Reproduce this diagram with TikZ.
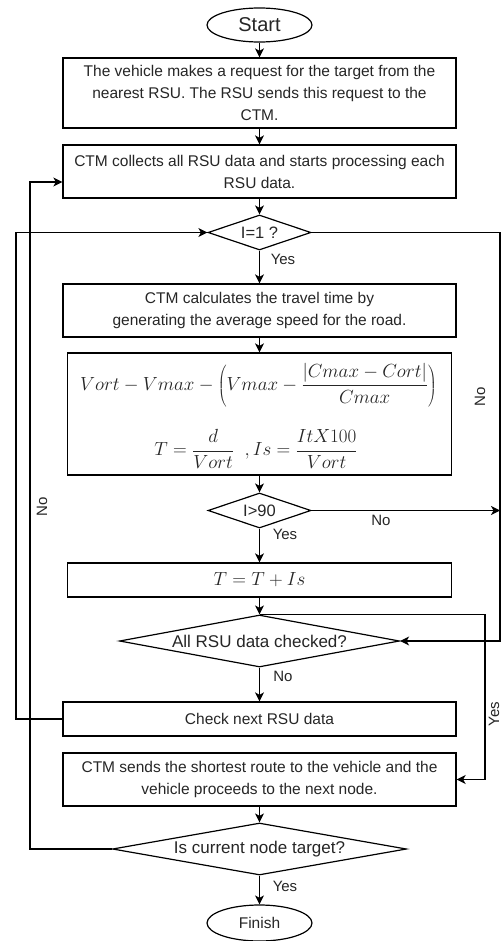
\RequirePackage{fix-cm}
\documentclass[tikz,border=0pt]{standalone}
\usepackage[no-math]{fontspec}
\setmainfont{Liberation Sans}
\usetikzlibrary{shapes.geometric,arrows.meta,calc}
\begin{document}
\begin{tikzpicture}[x=1pt,y=-1pt,
  every node/.style={font=\fontsize{15.5}{22}\selectfont, text=black!85},
  procbox/.style={draw=black, line width=1.3pt, rectangle, inner sep=0pt, align=center, minimum width=393pt},
  dec/.style={draw=black, diamond, inner sep=0pt, line width=1.2pt},
  term/.style={draw=black, ellipse, inner sep=0pt, line width=1.2pt, minimum width=105pt, minimum height=34pt},
  arr/.style={-{Stealth[length=9pt,width=9pt,inset=2.5pt]}, line width=1.2pt},
  lbl/.style={font=\fontsize{15}{18}\selectfont, inner sep=0pt},
  mth/.style={font=\fontsize{19}{22}\selectfont, inner sep=0pt},
]
\useasboundingbox (0,0) rectangle (503,941);
\fill[white] (0,0) rectangle (503,941);

% nodes
\node[term, font=\fontsize{20}{24}\selectfont] (start) at (259.5,25) {Start};
\node[procbox, minimum height=70pt] (box1) at (259.5,93)
  {The vehicle makes a request for the target from the\\nearest RSU. The RSU sends this request to the\\CTM.};
\node[procbox, minimum height=53pt] (box2) at (259.5,171.5)
  {CTM collects all RSU data and starts processing each\\RSU data.};
\node[dec, shape aspect=2.9, minimum width=103pt, minimum height=35pt, font=\fontsize{16.5}{18}\selectfont] (d1) at (259.5,232.5) {I=1 ?};
\node[procbox, minimum height=53pt] (box3) at (259.5,310.5)
  {CTM calculates the travel time by\\generating the average speed for the road.};
\node[procbox, minimum width=384pt, minimum height=122pt] (fbox) at (259.5,414) {};
\node[mth] (f1) at (258.5,385)
  {$\displaystyle Vort - Vmax - \left(Vmax - \frac{|Cmax - Cort|}{Cmax}\right)$};
\node[mth] (f2) at (256,449)
  {$\displaystyle T = \frac{d}{Vort}\ \ , Is = \frac{ItX100}{Vort}$};
\node[dec, shape aspect=2.9, minimum width=103pt, minimum height=35pt, font=\fontsize{16.5}{18}\selectfont] (d2) at (259.5,510.5) {I>90};
\node[procbox, minimum width=384pt, minimum height=34pt, font=\fontsize{19}{22}\selectfont] (boxT) at (259.5,580) {$T = T + Is$};
\node[dec, shape aspect=5.4, minimum width=280pt, minimum height=52pt, font=\fontsize{17}{20}\selectfont] (d3) at (259.5,641) {All RSU data checked?};
\node[procbox, minimum height=34pt] (check) at (259.5,719) {Check next RSU data};
\node[procbox, minimum height=53pt] (send) at (259.5,779.5)
  {CTM sends the shortest route to the vehicle and the\\vehicle proceeds to the next node.};
\node[dec, shape aspect=5.6, minimum width=294pt, minimum height=52pt, font=\fontsize{17}{20}\selectfont] (d4) at (259.5,849) {Is current node target?};
\node[term, minimum height=36pt] (finish) at (259.5,923) {Finish};

% labels
\node[lbl] (l1) at (283,259) {Yes};
\node[lbl] (l2) at (285,534) {Yes};
\node[lbl] (l3) at (283,676) {No};
\node[lbl] (l4) at (285,886) {Yes};
\node[lbl] (l5) at (381,520) {No};
\node[lbl, rotate=90] (l6) at (480,397) {No};
\node[lbl, rotate=90] (l7) at (494,714) {Yes};
\node[lbl, rotate=90] (l8) at (42,507) {No};

% helper coordinates
\coordinate (rx) at (500,0);
\coordinate (yx) at (485,0);
\coordinate (lx1) at (16,0);
\coordinate (lx2) at (30,0);
\coordinate (b2in) at ($(box2.west)+(0,10.5)$);

% main flow
\draw[arr] (start) -- (box1);
\draw[arr] (box1) -- (box2);
\draw[arr] (box2) -- (d1);
\draw[arr] (d1) -- (box3);
\draw[arr] (box3) -- (fbox);
\draw[arr] (fbox) -- (d2);
\draw[arr] (d2) -- (boxT);
\draw[arr] (boxT) -- (d3);
\draw[arr] (d3) -- (check);
\draw[arr] (send) -- (d4);
\draw[arr] (d4) -- (finish);

% side connectors
\draw[arr] (d1.east) -- (d1.east -| rx) -- (d3.east -| rx) -- (d3.east);
\draw[arr] (d2.east) -- (d2.east -| rx);
\draw[arr] (d3.north) -- (d3.north -| yx) -- (send.east -| yx) -- (send.east);
\draw[arr] (check.west) -- (check.west -| lx1) -- (d1.west -| lx1) -- (d1.west);
\draw[arr] (d4.west) -- (d4.west -| lx2) -- (b2in -| lx2) -- (b2in);
\end{tikzpicture}
\end{document}
